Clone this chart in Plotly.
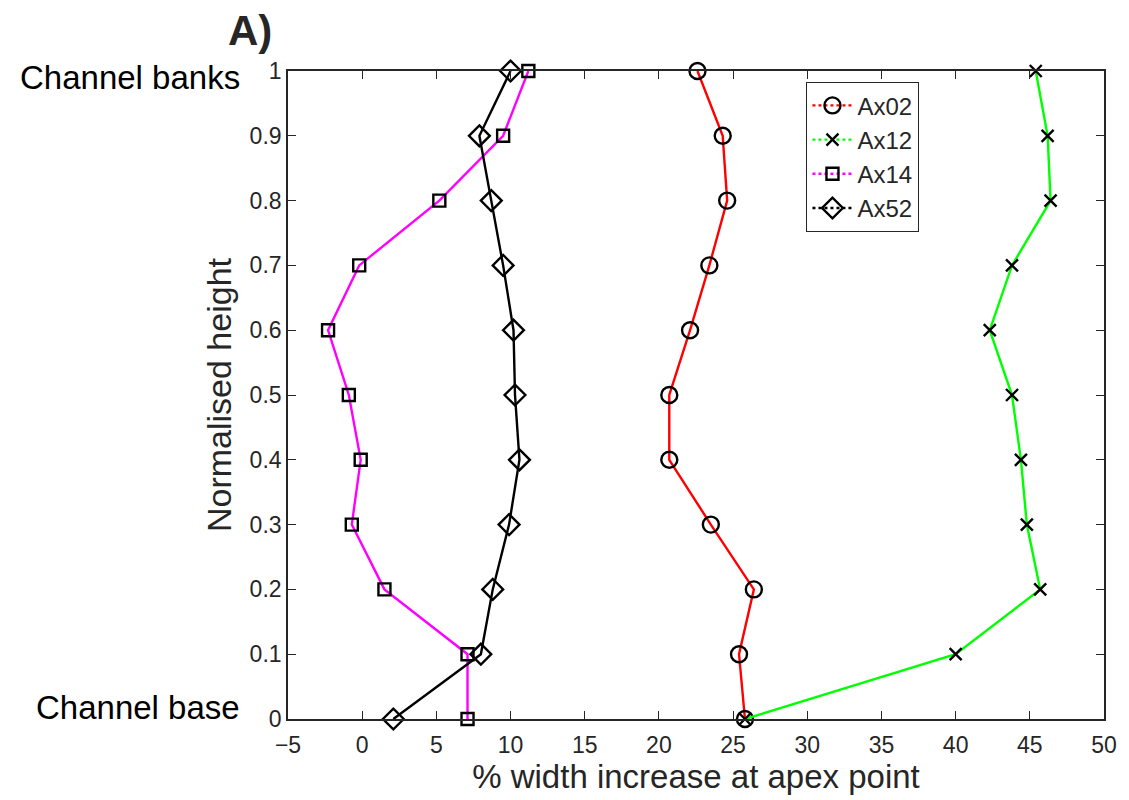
import plotly.graph_objects as go

heights = [0, 0.1, 0.2, 0.3, 0.4, 0.5, 0.6, 0.7, 0.8, 0.9, 1.0]
ax02 = [25.8, 25.4, 26.4, 23.5, 20.7, 20.7, 22.1, 23.4, 24.6, 24.3, 22.6]
ax12 = [25.8, 40.0, 45.7, 44.8, 44.4, 43.8, 42.3, 43.8, 46.4, 46.2, 45.4]
ax14 = [7.1, 7.1, 1.5, -0.7, -0.1, -0.9, -2.3, -0.2, 5.2, 9.5, 11.2]
ax52 = [2.1, 8.0, 8.8, 9.9, 10.6, 10.3, 10.2, 9.5, 8.7, 7.9, 10.0]

series = [
    ("Ax02", ax02, "#ff0000", "circle-open", 16),
    ("Ax12", ax12, "#00ff00", "x-thin-open", 12),
    ("Ax14", ax14, "#ff00ff", "square-open", 12),
    ("Ax52", ax52, "#000000", "diamond-open", 16),
]

xticks = list(range(-5, 51, 5))
yticks = [0, 0.1, 0.2, 0.3, 0.4, 0.5, 0.6, 0.7, 0.8, 0.9, 1.0]
ytick_text = ["0", "0.1", "0.2", "0.3", "0.4", "0.5", "0.6", "0.7", "0.8", "0.9", "1"]

FONT = "Liberation Sans, Arial, sans-serif"

fig = go.Figure()
for name, xs, col, sym, sz in series:
    fig.add_trace(go.Scatter(
        x=xs, y=heights, mode="lines+markers", name=name, showlegend=False,
        line=dict(color=col, width=2.4),
        marker=dict(symbol=sym, size=sz, color="black", line=dict(color="black", width=2.4)),
        cliponaxis=False,
    ))
for name, xs, col, sym, sz in series:
    fig.add_trace(go.Scatter(
        x=[None], y=[None], mode="lines+markers", name=name, showlegend=True,
        line=dict(color=col, width=2.4, dash="dot"),
        marker=dict(symbol=sym, size=sz, color="black", line=dict(color="black", width=2.4)),
    ))

axis_font = dict(family=FONT, size=23, color="#262626")
fig.update_layout(
    width=1129, height=800,
    margin=dict(l=288, r=19, t=71, b=81),
    paper_bgcolor="white", plot_bgcolor="white",
    font=dict(family=FONT, color="#262626"),
    xaxis=dict(
        range=[-5, 50], tickvals=xticks, ticks="inside", ticklen=8, tickwidth=1.3,
        tickcolor="#262626", showline=True, linecolor="#262626", linewidth=1.6,
        mirror="ticks", showgrid=False, zeroline=False, tickfont=axis_font,
        ticklabelstandoff=5,
        title=dict(text="% width increase at apex point",
                   font=dict(family=FONT, size=33, color="#262626"),
                   standoff=0),
    ),
    yaxis=dict(
        range=[0, 1], tickvals=yticks, ticktext=ytick_text, ticks="inside", ticklen=8,
        tickwidth=1.3, tickcolor="#262626", showline=True, linecolor="#262626",
        linewidth=1.6, mirror="ticks", showgrid=False, zeroline=False, tickfont=axis_font,
        title=dict(text="Normalised height",
                   font=dict(family=FONT, size=34, color="#262626"),
                   standoff=8),
    ),
    legend=dict(
        x=0.635, y=0.983, xanchor="left", yanchor="top",
        bgcolor="white", bordercolor="#262626", borderwidth=1.3,
        font=dict(family=FONT, size=24, color="#262626"),
        itemwidth=40, tracegroupgap=0,
    ),
    annotations=[
        dict(text="Channel banks", xref="paper", yref="paper", x=-0.0567, y=0.99,
             xanchor="right", yanchor="middle", showarrow=False,
             font=dict(family=FONT, size=33, color="black")),
        dict(text="Channel base", xref="paper", yref="paper", x=-0.0567, y=0.018,
             xanchor="right", yanchor="middle", showarrow=False,
             font=dict(family=FONT, size=33, color="black")),
        dict(text="<b>A)</b>", xref="paper", yref="paper", x=-0.047, y=1.063,
             xanchor="center", yanchor="middle", showarrow=False,
             font=dict(family=FONT, size=42, color="#262626")),
    ],
)

fig.write_html("out.html")
